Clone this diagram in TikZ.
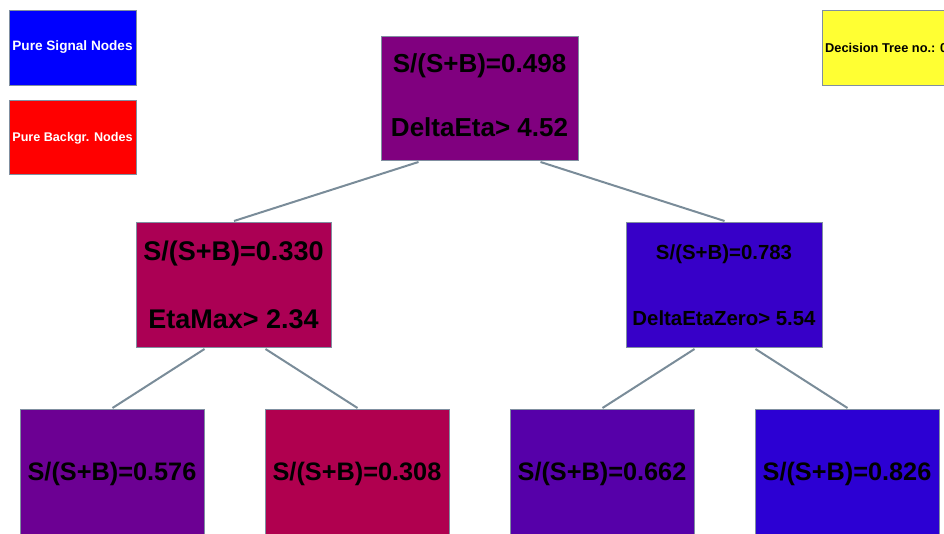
\documentclass[tikz,border=0pt]{standalone}
\usepackage{fontspec}
\setmainfont{Liberation Sans}
\definecolor{edgecol}{RGB}{122,140,153}
\definecolor{bordcol}{RGB}{128,143,160}
\definecolor{c498}{RGB}{128,0,127}
\definecolor{c330}{RGB}{171,0,84}
\definecolor{c783}{RGB}{55,0,200}
\definecolor{c576}{RGB}{108,0,147}
\definecolor{c308}{RGB}{176,0,79}
\definecolor{c662}{RGB}{86,0,169}
\definecolor{c826}{RGB}{44,0,211}
\definecolor{sigblue}{RGB}{0,0,255}
\definecolor{bkgred}{RGB}{255,0,0}
\definecolor{treeyel}{RGB}{255,255,51}
\tikzset{
  treebox/.style={draw=bordcol, line width=1pt, rectangle, inner sep=0pt, anchor=north west},
  txt/.style={anchor=base, inner sep=0pt, font=\bfseries},
  conn/.style={draw=edgecol, line width=2pt},
}
\newcommand{\fs}[1]{\fontsize{#1}{#1}\selectfont}
\begin{document}
\begin{tikzpicture}[x=1pt,y=-1pt]
\useasboundingbox (0,0) rectangle (944,534);
\clip (0,0) rectangle (944,534);
% boxes
\node[treebox, fill=sigblue, minimum width=127pt, minimum height=75pt] (sig) at (9,10) {};
\node[treebox, fill=bkgred, minimum width=127pt, minimum height=74pt] (bkg) at (9,100) {};
\node[treebox, fill=treeyel, minimum width=134pt, minimum height=75pt] (tree) at (822,10) {};
\node[treebox, fill=c498, minimum width=197pt, minimum height=124pt] (root) at (381,36) {};
\node[treebox, fill=c330, minimum width=195pt, minimum height=125pt] (lm) at (136,222) {};
\node[treebox, fill=c783, minimum width=196pt, minimum height=125pt] (rm) at (626,222) {};
\node[treebox, fill=c576, minimum width=184pt, minimum height=127pt] (l1) at (20,409) {};
\node[treebox, fill=c308, minimum width=184pt, minimum height=127pt] (l2) at (265,409) {};
\node[treebox, fill=c662, minimum width=184pt, minimum height=127pt] (l3) at (510,409) {};
\node[treebox, fill=c826, minimum width=184pt, minimum height=127pt] (l4) at (755,409) {};
% connectors
\draw[conn] ([xshift=-61.5pt,yshift=-1pt]root.south) -- ([yshift=1pt]lm.north);
\draw[conn] ([xshift=60.5pt,yshift=-1pt]root.south) -- ([yshift=1pt]rm.north);
\draw[conn] ([xshift=-29.5pt,yshift=-1pt]lm.south) -- ([yshift=1pt]l1.north);
\draw[conn] ([xshift=31.5pt,yshift=-1pt]lm.south) -- ([yshift=1pt]l2.north);
\draw[conn] ([xshift=-30pt,yshift=-1pt]rm.south) -- ([yshift=1pt]l3.north);
\draw[conn] ([xshift=31pt,yshift=-1pt]rm.south) -- ([yshift=1pt]l4.north);
% texts
\node[txt, text=white, font=\bfseries\fs{13.6}] (tsig) at (72.5,50.7) {Pure Signal Nodes};
\node[txt, text=white, font=\bfseries\fs{12.6}] (tbkg) at (72.5,141.7) {Pure Backgr. Nodes};
\node[txt, anchor=base west, font=\bfseries\fs{12.8}] (ttree) at (825,52.3) {Decision Tree no.: 0};
\node[txt, font=\bfseries\fs{26}] (troot1) at (479.5,73) {S/(S+B)=0.498};
\node[txt, font=\bfseries\fs{26}] (troot2) at (479.5,137) {DeltaEta> 4.52};
\node[txt, font=\bfseries\fs{27}] (tlm1) at (233.5,261) {S/(S+B)=0.330};
\node[txt, font=\bfseries\fs{27}] (tlm2) at (233.5,328) {EtaMax> 2.34};
\node[txt, font=\bfseries\fs{20.4}] (trm1) at (724,260) {S/(S+B)=0.783};
\node[txt, font=\bfseries\fs{20.4}] (trm2) at (724,325) {DeltaEtaZero> 5.54};
\node[txt, font=\bfseries\fs{25.3}] (tl1) at (112,480) {S/(S+B)=0.576};
\node[txt, font=\bfseries\fs{25.3}] (tl2) at (357,480) {S/(S+B)=0.308};
\node[txt, font=\bfseries\fs{25.3}] (tl3) at (602,480) {S/(S+B)=0.662};
\node[txt, font=\bfseries\fs{25.3}] (tl4) at (847,480) {S/(S+B)=0.826};
\end{tikzpicture}
\end{document}
